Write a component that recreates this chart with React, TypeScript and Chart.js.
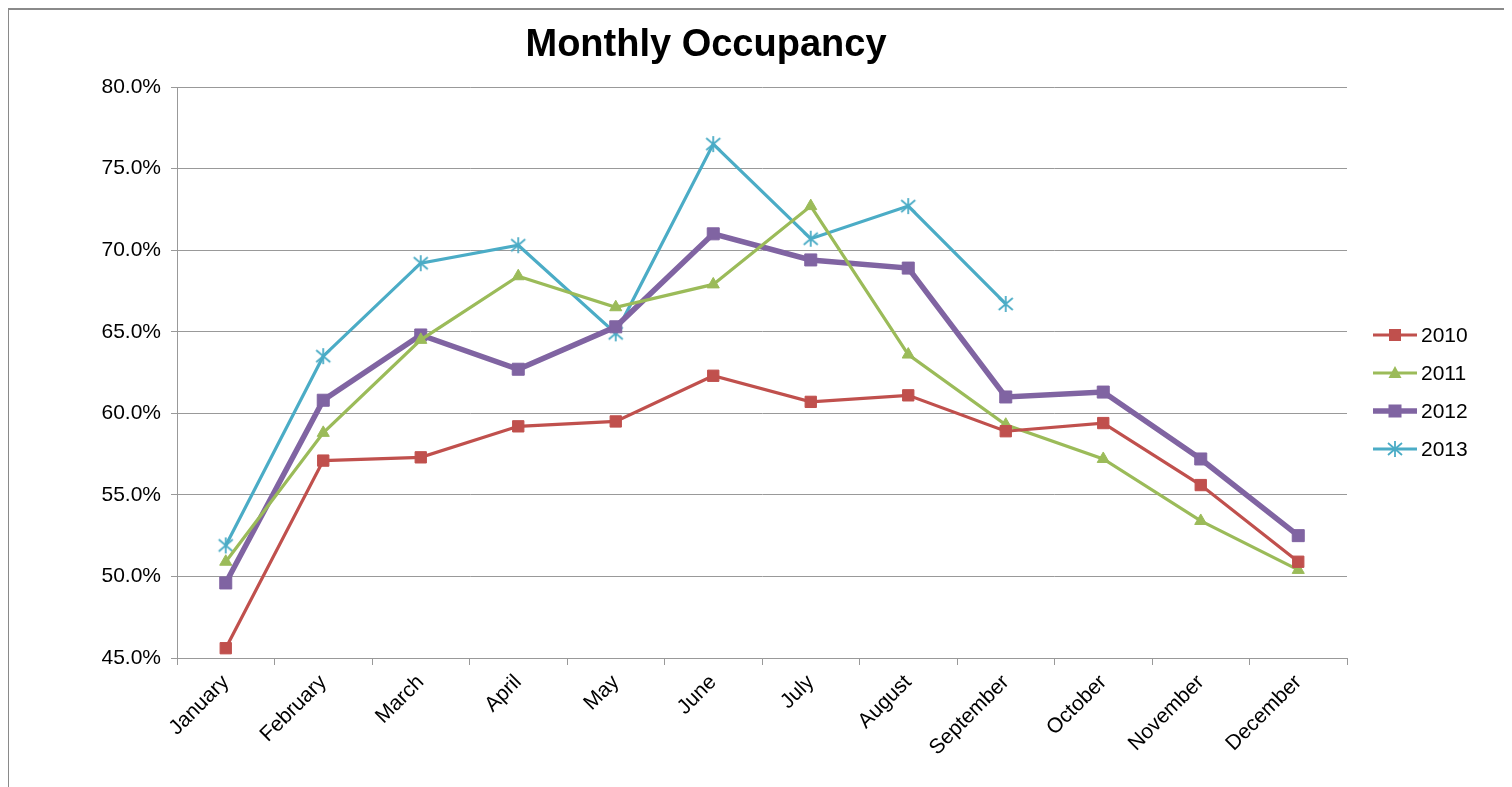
import React, { useEffect, useRef } from "react";
import { Chart, registerables } from "chart.js";

Chart.register(...registerables);

const months = ["January", "February", "March", "April", "May", "June", "July", "August", "September", "October", "November", "December"];
const yTicks = [45, 50, 55, 60, 65, 70, 75, 80];
const s2010 = [45.6, 57.1, 57.3, 59.2, 59.5, 62.3, 60.7, 61.1, 58.9, 59.4, 55.6, 50.9];
const s2011 = [50.9, 58.8, 64.5, 68.4, 66.5, 67.9, 72.7, 63.6, 59.3, 57.2, 53.4, 50.4];
const s2012 = [49.6, 60.8, 64.8, 62.7, 65.3, 71.0, 69.4, 68.9, 61.0, 61.3, 57.2, 52.5];
const s2013 = [51.9, 63.5, 69.2, 70.3, 64.9, 76.5, 70.7, 72.7, 66.7, null, null, null];
const titleText = "Monthly Occupancy";

function makeStar(color: string): HTMLCanvasElement {
  const c = document.createElement("canvas");
  c.width = 18;
  c.height = 18;
  const ctx = c.getContext("2d")!;
  ctx.strokeStyle = color;
  ctx.lineWidth = 1.8;
  ctx.beginPath();
  ctx.moveTo(9, 1); ctx.lineTo(9, 17);
  ctx.moveTo(2, 3); ctx.lineTo(16, 15);
  ctx.moveTo(16, 3); ctx.lineTo(2, 15);
  ctx.stroke();
  return c;
}

export default function App() {
  const ref = useRef<HTMLCanvasElement>(null);
  useEffect(() => {
    const star = makeStar("#4BACC6");
    const font = "'Liberation Sans', Arial, sans-serif";
    const series = [
      { label: "2010", data: s2010, color: "#C0504D", width: 3.2, style: "rect", radius: 8 },
      { label: "2011", data: s2011, color: "#9BBB59", width: 3.2, style: "triangle", radius: 7 },
      { label: "2012", data: s2012, color: "#8064A2", width: 5.5, style: "rect", radius: 8.5 },
      { label: "2013", data: s2013, color: "#4BACC6", width: 3.2, style: star as any, radius: 9 },
    ];
    const customPlugin = {
      id: "custom",
      afterDraw(chart: any) {
        const ctx = chart.ctx;
        ctx.save();
        ctx.fillStyle = "#000";
        ctx.font = `bold 38px ${font}`;
        ctx.textAlign = "center";
        ctx.textBaseline = "middle";
        ctx.fillText(titleText, 697, 36);
        // legend
        ctx.font = `21px ${font}`;
        ctx.textAlign = "left";
        series.forEach((s, i) => {
          const y = 325 + i * 38;
          const x0 = 1364, x1 = 1408, xm = 1386;
          ctx.strokeStyle = s.color;
          ctx.lineWidth = s.width;
          ctx.beginPath();
          ctx.moveTo(x0, y);
          ctx.lineTo(x1, y);
          ctx.stroke();
          if (s.style === "rect") {
            const sz = s.label === "2012" ? 6.5 : 6;
            ctx.fillStyle = s.color;
            ctx.fillRect(xm - sz, y - sz, sz * 2, sz * 2);
          } else if (s.style === "triangle") {
            ctx.fillStyle = s.color;
            ctx.beginPath();
            ctx.moveTo(xm, y - 7);
            ctx.lineTo(xm + 6.5, y + 5);
            ctx.lineTo(xm - 6.5, y + 5);
            ctx.closePath();
            ctx.fill();
          } else {
            ctx.drawImage(star, xm - 9, y - 9);
          }
          ctx.fillStyle = "#000";
          ctx.textBaseline = "middle";
          ctx.fillText(s.label, 1412, y + 1);
        });
        ctx.restore();
      },
    };
    const chart = new Chart(ref.current!, {
      type: "line",
      data: {
        labels: months,
        datasets: series.map((s) => ({
          label: s.label,
          data: s.data,
          borderColor: s.color,
          backgroundColor: s.color,
          borderWidth: s.width,
          pointStyle: s.style as any,
          pointRadius: s.radius,
          pointBorderWidth: 1,
          pointBorderColor: s.color,
          pointBackgroundColor: s.color,
          tension: 0,
          fill: false,
          spanGaps: false,
        })),
      },
      options: {
        animation: false,
        responsive: false,
        events: [],
        layout: { padding: { top: 77, right: 157, left: 0, bottom: 0 } },
        plugins: { legend: { display: false }, title: { display: false }, tooltip: { enabled: false } },
        scales: {
          x: {
            offset: true,
            afterFit: (s: any) => { s.height = 148; },
            grid: { display: true, drawOnChartArea: false, drawTicks: true, tickLength: 7, offset: true, color: "#999" },
            border: { display: true, color: "#999", width: 1 },
            ticks: { color: "#000", font: { family: font, size: 21 }, minRotation: 45, maxRotation: 45, padding: 5, autoSkip: false },
          },
          y: {
            min: 45,
            max: 80,
            afterFit: (s: any) => { s.width = 168; },
            afterBuildTicks: (s: any) => { s.ticks = yTicks.map((v) => ({ value: v })); },
            grid: { color: "#999", drawTicks: true, tickLength: 6 },
            border: { display: true, color: "#999", width: 1 },
            ticks: { color: "#000", font: { family: font, size: 21 }, padding: 10, callback: (v: any) => Number(v).toFixed(1) + "%" },
          },
        },
      },
      plugins: [customPlugin],
    });
    return () => chart.destroy();
  }, []);
  return (
    <div style={{ width: 1499, height: 800, border: "2px solid #8a8a8a", boxSizing: "border-box", marginLeft: -1, background: "#fff" }}>
      <canvas ref={ref} width={1495} height={796} style={{ display: "block" }} />
    </div>
  );
}
